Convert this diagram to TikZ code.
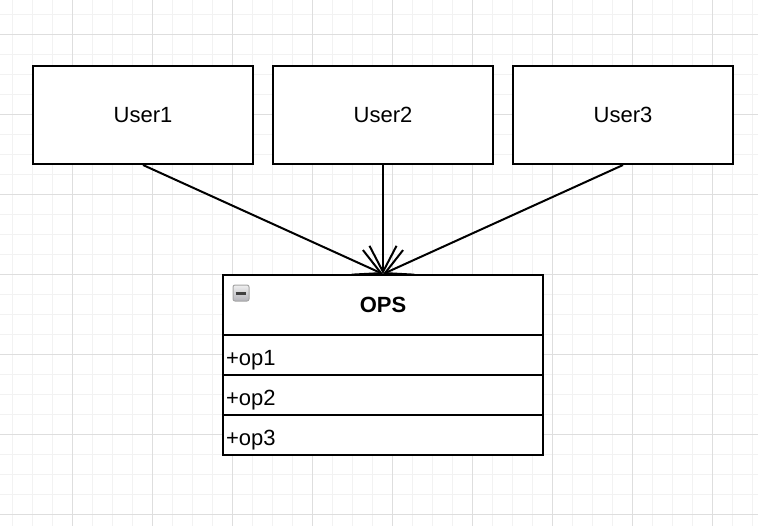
\documentclass[tikz,border=0pt]{standalone}
\usepackage{fontspec}
\setmainfont{Liberation Sans}
\usetikzlibrary{arrows.meta}
\tikzset{
  minorgrid/.style={draw=black!5, line width=0.5pt},
  majorgrid/.style={draw=black!13, line width=0.5pt},
  umlbox/.style={draw=black, line width=1pt, fill=white, font=\fontsize{11}{13}\selectfont, inner sep=0pt},
  rowbox/.style={draw=black, line width=1pt, fill=white, font=\fontsize{11}{13}\selectfont,
    text width=157pt, align=left, inner xsep=1.5pt, inner ysep=0pt, minimum height=20pt,
    text height=10.5pt, text depth=0.4pt},
  link/.style={draw=black, line width=1pt, -{Straight Barb[length=13pt,width=13.5pt,line width=1pt]}},
}
\begin{document}
\begin{tikzpicture}[x=0.5pt,y=-0.5pt]
\useasboundingbox (0,0) rectangle (758,526);
\fill[white] (0,0) rectangle (758,526);
% grid
\foreach \x in {12,32,...,752} \draw[minorgrid] (\x,0) -- (\x,526);
\foreach \y in {14,34,...,526} \draw[minorgrid] (0,\y) -- (758,\y);
\foreach \x in {72,152,...,752} \draw[majorgrid] (\x,0) -- (\x,526);
\foreach \y in {34,114,...,526} \draw[majorgrid] (0,\y) -- (758,\y);
% users
\node[umlbox, minimum width=110pt, minimum height=49pt] (u1) at (143,115) {User1};
\node[umlbox, minimum width=110pt, minimum height=49pt] (u2) at (383,115) {User2};
\node[umlbox, minimum width=110pt, minimum height=49pt] (u3) at (623,115) {User3};
% OPS class
\node[umlbox, minimum width=160pt, minimum height=30pt] (ops) at (383,305) {\bfseries OPS};
\node[rowbox] (r1) at (383,355) {+op1};
\node[rowbox] (r2) at (383,395) {+op2};
\node[rowbox] (r3) at (383,435) {+op3};
% collapse icon
\node[draw=black!35, line width=0.5pt, rounded corners=1pt, top color=blue!4!black!6, bottom color=blue!8!black!30,
      minimum size=8pt, inner sep=0pt] (icon) at (241,293) {};
\draw[line width=1.5pt, black!75] ([xshift=-2.7pt]icon.center) -- ([xshift=2.7pt]icon.center);
% connectors
\draw[link] (u1.south) -- (ops.north);
\draw[link] (u2.south) -- (ops.north);
\draw[link] (u3.south) -- (ops.north);
\end{tikzpicture}
\end{document}
